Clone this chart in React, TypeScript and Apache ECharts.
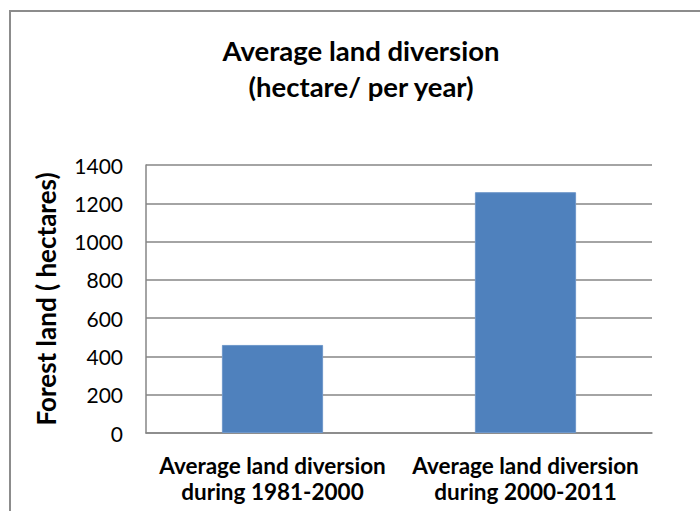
import React, { useEffect, useRef } from "react";
import * as echarts from "echarts";

const categories = [
  "Average land diversion\nduring 1981-2000",
  "Average land diversion\nduring 2000-2011",
];
const values = [460, 1258];
const titleText = "Average land diversion\n(hectare/ per year)";
const yAxisName = "Forest land ( hectares)";
const yMin = 0;
const yMax = 1400;
const yInterval = 200;

const FONT = "Lato, 'Open Sans', sans-serif";

export default function App() {
  const ref = useRef<HTMLDivElement>(null);
  useEffect(() => {
    if (!ref.current) return;
    const chart = echarts.init(ref.current, undefined, { renderer: "svg" });
    chart.setOption({
      animation: false,
      backgroundColor: "#ffffff",
      textStyle: { fontFamily: FONT },
      title: {
        text: titleText,
        left: 356,
        top: 27,
        textAlign: "center",
        textStyle: {
          fontFamily: FONT,
          fontSize: 27.5,
          fontWeight: "bold",
          color: "#000000",
          lineHeight: 36,
        },
      },
      graphic: [
        {
          type: "rect",
          shape: { x: 10, y: 11, width: 720, height: 560 },
          style: { fill: "none", stroke: "#8c8c8c", lineWidth: 2 },
          silent: true,
        },
      ],
      grid: { left: 146, right: 48, top: 165, bottom: 78, containLabel: false },
      xAxis: {
        type: "category",
        data: categories,
        axisLine: { show: true, lineStyle: { color: "#868686", width: 1.5 } },
        axisTick: { show: false },
        axisLabel: {
          fontFamily: FONT,
          fontSize: 22.5,
          fontWeight: "bold",
          color: "#000000",
          lineHeight: 26,
          margin: 19,
          interval: 0,
        },
      },
      yAxis: {
        type: "value",
        min: yMin,
        max: yMax,
        interval: yInterval,
        name: yAxisName,
        nameLocation: "middle",
        nameGap: 87,
        nameRotate: 90,
        nameTextStyle: {
          fontFamily: FONT,
          fontSize: 26,
          fontWeight: "bold",
          color: "#000000",
        },
        axisLine: { show: true, lineStyle: { color: "#868686", width: 1.5 } },
        axisTick: { show: false },
        axisLabel: {
          fontFamily: FONT,
          fontSize: 21,
          color: "#000000",
          margin: 23,
          formatter: (v: number) => String(v),
        },
        splitLine: { show: true, lineStyle: { color: "#868686", width: 1.5 } },
      },
      series: [
        {
          type: "bar",
          data: values,
          barWidth: "40%",
          itemStyle: { color: "#4F81BD", borderColor: "#6E97CA", borderWidth: 1 },
        },
      ],
    });
    return () => chart.dispose();
  }, []);
  return (
    <div
      ref={ref}
      style={{ position: "absolute", left: 0, top: 0, width: 700, height: 511 }}
    />
  );
}
